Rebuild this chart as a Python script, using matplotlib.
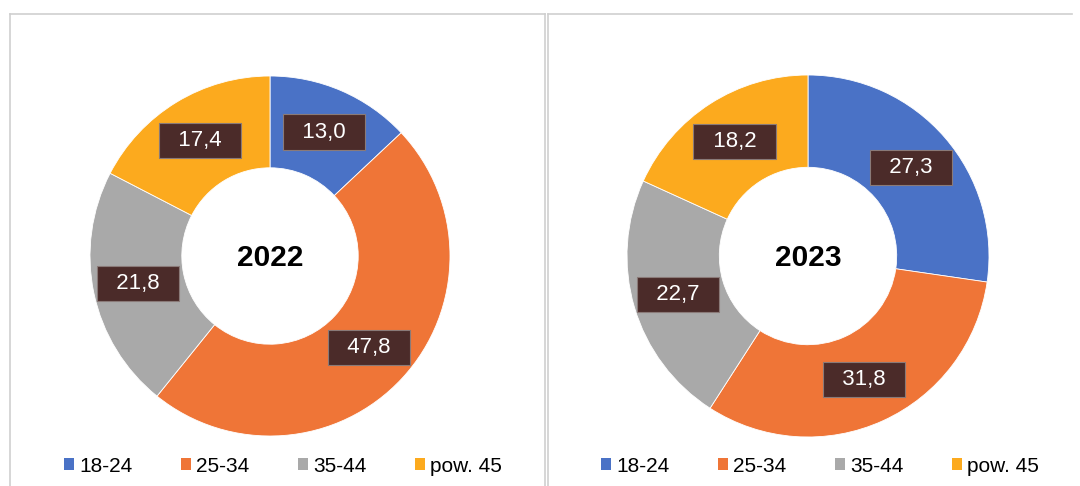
import matplotlib.pyplot as plt
from matplotlib.patches import Patch
import numpy as np

plt.rcParams['font.family'] = ['Liberation Sans', 'DejaVu Sans']

# Data
categories = ["18-24", "25-34", "35-44", "pow. 45"]
years = ["2022", "2023"]
values_2022 = [13.0, 47.8, 21.8, 17.4]
values_2023 = [27.3, 31.8, 22.7, 18.2]
colors = ['#4a72c6', '#ef7537', '#a9a9a9', '#fcaa1e']

W, H = 1080, 486
fig = plt.figure(figsize=(W / 100, H / 100), dpi=100)

# panel frames (pixel coords -> figure coords)
frame_col = '#cfcfcf'
fig.add_artist(plt.Line2D([10 / W, 545 / W], [1 - 14 / H, 1 - 14 / H], color=frame_col, lw=1.2))
fig.add_artist(plt.Line2D([10 / W, 10 / W], [0, 1 - 14 / H], color=frame_col, lw=1.2))
fig.add_artist(plt.Line2D([545 / W, 545 / W], [0, 1 - 14 / H], color=frame_col, lw=1.2))
fig.add_artist(plt.Line2D([548 / W, 1072 / W], [1 - 14 / H, 1 - 14 / H], color=frame_col, lw=1.2))
fig.add_artist(plt.Line2D([548 / W, 548 / W], [0, 1 - 14 / H], color=frame_col, lw=1.2))

centers = [(270, 256, 180), (808, 256, 181)]
legend_x = [283, 820]
all_values = [values_2022, values_2023]

for (cx, cy, r), year, vals, lx in zip(centers, years, all_values, legend_x):
    ax = fig.add_axes([(cx - r) / W, (H - cy - r) / H, 2 * r / W, 2 * r / H])
    wedges, _ = ax.pie(vals, colors=colors, startangle=90, counterclock=False,
                       radius=1.0, wedgeprops=dict(width=0.51, edgecolor='white', linewidth=0.6))
    ax.set_xlim(-1, 1)
    ax.set_ylim(-1, 1)
    ax.set_aspect('equal')
    ax.axis('off')

    for w, v in zip(wedges, vals):
        ang = np.deg2rad((w.theta1 + w.theta2) / 2)
        rr = 0.75
        ax.text(rr * np.cos(ang), rr * np.sin(ang), "  " + f"{v:.1f}".replace('.', ',') + "  ",
                ha='center', va='center', fontsize=16, color='white',
                bbox=dict(boxstyle='square,pad=0.32', fc='#4b2b29', ec='#8a7a78', lw=0.8))

    ax.text(0, -0.01, year, ha='center', va='center', fontsize=21.5, fontweight='bold', color='black')

    handles = [Patch(facecolor=c, edgecolor='none') for c in colors]
    fig.legend(handles, categories, loc='center', bbox_to_anchor=(lx / W, 1 - 466 / H),
               ncol=4, frameon=False, fontsize=15, handlelength=0.5, handleheight=0.5,
               handletextpad=0.25, columnspacing=2.3)

fig.savefig('out.png', dpi=100, facecolor='white')
